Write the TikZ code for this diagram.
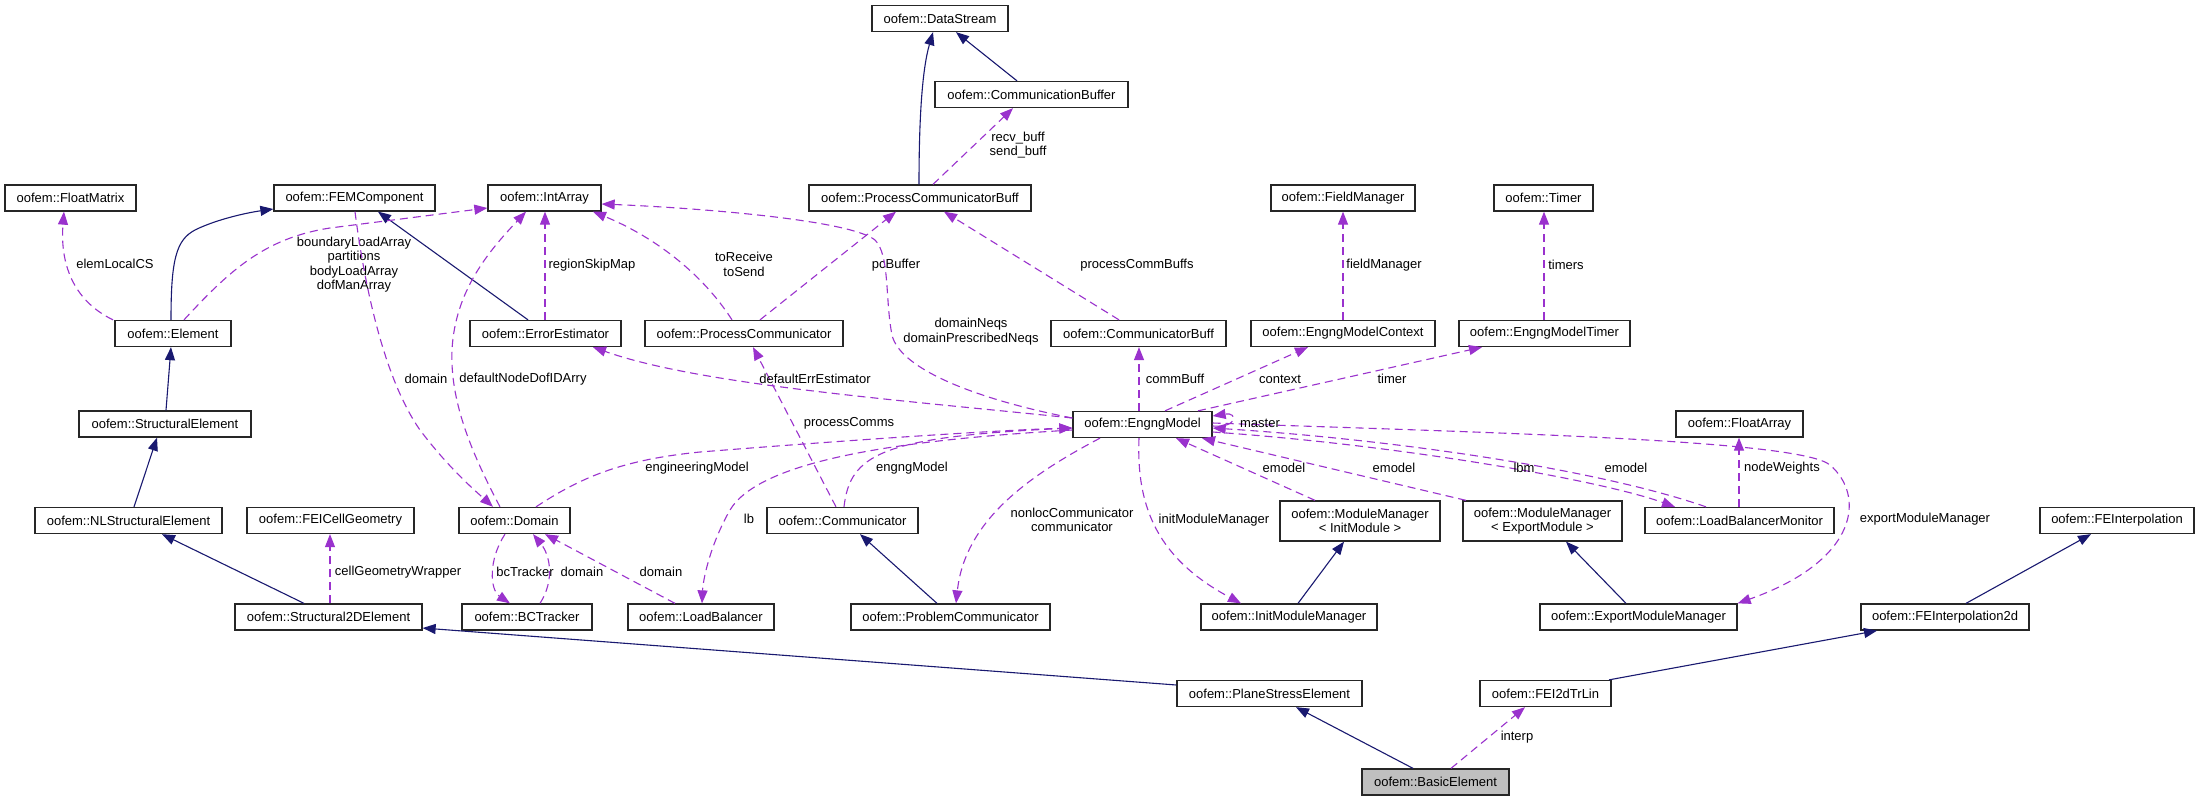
\documentclass[tikz,border=0pt]{standalone}
\usepackage{fontspec}
\setmainfont{Liberation Sans}
\usetikzlibrary{arrows.meta}
\definecolor{inhc}{HTML}{191970}
\definecolor{usec}{HTML}{9A32CD}
\definecolor{boxgray}{HTML}{BFBFBF}
\begin{document}
\begin{tikzpicture}[x=1pt,y=-1pt,
 box/.style={draw=black!85,line width=1.3pt,inner sep=0pt,minimum height=26pt,font=\fontsize{13}{14.5}\selectfont,align=center,fill=white},
 lbl/.style={inner sep=0pt,font=\fontsize{13}{14.5}\selectfont,align=center},
 inh/.style={draw=inhc,line width=1.1pt,-{Triangle[length=13pt,width=10pt]}},
 use/.style={draw=usec,line width=1.1pt,dash pattern=on 8pt off 5pt,-{Triangle[length=13pt,width=10pt]}},
]
\useasboundingbox[fill=white] (0,0) rectangle (2200,801);

\node[box,minimum width=136pt] (ds) at (940,18.5) {oofem::DataStream};
\node[box,minimum width=193pt] (cb) at (1031.5,94.5) {oofem::CommunicationBuffer};
\node[box,minimum width=131pt] (fm) at (70.5,198) {oofem::FloatMatrix};
\node[box,minimum width=161pt] (femc) at (354.5,198) {oofem::FEMComponent};
\node[box,minimum width=113pt] (ia) at (544.5,198) {oofem::IntArray};
\node[box,minimum width=222pt] (pcb) at (920,198) {oofem::ProcessCommunicatorBuff};
\node[box,minimum width=144pt] (fmgr) at (1343,198) {oofem::FieldManager};
\node[box,minimum width=99pt] (tmr) at (1543.5,198) {oofem::Timer};
\node[box,minimum width=116pt] (el) at (173,333.5) {oofem::Element};
\node[box,minimum width=151pt] (ee) at (545.5,333.5) {oofem::ErrorEstimator};
\node[box,minimum width=198pt] (pc) at (744,333.5) {oofem::ProcessCommunicator};
\node[box,minimum width=175pt] (cbf) at (1138.5,333.5) {oofem::CommunicatorBuff};
\node[box,minimum width=184pt] (emc) at (1343,333.5) {oofem::EngngModelContext};
\node[box,minimum width=171pt] (emt) at (1544.5,333.5) {oofem::EngngModelTimer};
\node[box,minimum width=172pt] (se) at (165,424) {oofem::StructuralElement};
\node[box,minimum width=139pt] (em) at (1142.5,424.5) {oofem::EngngModel};
\node[box,minimum width=127pt] (fa) at (1739.5,424) {oofem::FloatArray};
\node[box,minimum width=187pt] (nl) at (128.5,520.5) {oofem::NLStructuralElement};
\node[box,minimum width=167pt] (fcg) at (330.5,520.5) {oofem::FEICellGeometry};
\node[box,minimum width=111pt] (dom) at (514.5,520.5) {oofem::Domain};
\node[box,minimum width=151pt] (com) at (842.5,520.5) {oofem::Communicator};
\node[box,minimum width=160pt,minimum height=40pt] (mmi) at (1360,521) {oofem::ModuleManager\\< InitModule >};
\node[box,minimum width=159pt,minimum height=40pt] (mme) at (1542.5,521) {oofem::ModuleManager\\< ExportModule >};
\node[box,minimum width=189pt] (lbm) at (1739.5,520.5) {oofem::LoadBalancerMonitor};
\node[box,minimum width=154pt] (fei) at (2117,520.5) {oofem::FEInterpolation};
\node[box,minimum width=187pt] (s2d) at (328.5,617) {oofem::Structural2DElement};
\node[box,minimum width=130pt] (bct) at (527,617) {oofem::BCTracker};
\node[box,minimum width=146pt] (lb) at (701,617) {oofem::LoadBalancer};
\node[box,minimum width=199pt] (prc) at (950.5,617) {oofem::ProblemCommunicator};
\node[box,minimum width=176pt] (imm) at (1289,617) {oofem::InitModuleManager};
\node[box,minimum width=197pt] (emm) at (1638.5,617) {oofem::ExportModuleManager};
\node[box,minimum width=168pt] (fei2d) at (1945,617) {oofem::FEInterpolation2d};
\node[box,minimum width=185pt] (pse) at (1269.5,693.5) {oofem::PlaneStressElement};
\node[box,minimum width=131pt] (tri) at (1545.5,693.5) {oofem::FEI2dTrLin};
\node[box,minimum width=147pt,fill=boxgray] (be) at (1435.5,782) {oofem::BasicElement};

% inheritance
\draw[inh] (pcb.north -| 919,0) .. controls (919,120) and (922,70) .. (ds.south -| 933,0);
\draw[inh] (cb.north -| 1017,0) -- (ds.south -| 956,0);
\draw[inh] (el.north -| 171,0) .. controls (171,260) and (176,240) .. (195,230) .. controls (215,220) and (245,213) .. (femc.west |- 0,209);
\draw[inh] (ee.north -| 528,0) -- (femc.south -| 378,0);
\draw[inh] (se.north -| 166,0) -- (el.south -| 171,0);
\draw[inh] (nl.north -| 134,0) -- (se.south -| 157,0);
\draw[inh] (s2d.north -| 304,0) -- (nl.south -| 162,0);
\draw[inh] (pse.west |- 0,685) -- (s2d.east |- 0,628);
\draw[inh] (be.north -| 1413,0) -- (pse.south -| 1296,0);
\draw[inh] (tri.north -| 1609,0) -- (fei2d.south -| 1877,0);
\draw[inh] (fei2d.north -| 1966,0) -- (fei.south -| 2091,0);
\draw[inh] (emm.north -| 1626,0) -- (mme.south -| 1566,0);
\draw[inh] (imm.north -| 1298,0) -- (mmi.south -| 1344,0);
\draw[inh] (prc.north -| 937,0) -- (com.south -| 860,0);

% usage
\draw[use] (pcb.north -| 933,0) -- (cb.south -| 1013,0);
\node[lbl] (lbuff) at (1018,145) {recv\_buff\\send\_buff};
\draw[use] (el.north -| 113,0) .. controls (72,300) and (60,262) .. (fm.south -| 64,0);
\node[lbl] (lelcs) at (115,264) {elemLocalCS};
\draw[use] (el.north -| 184,0) .. controls (230,270) and (265,238) .. (330,228) -- (ia.west |- 0,208);
\node[lbl] (larr) at (354,264.5) {boundaryLoadArray\\partitions\\bodyLoadArray\\dofManArray};
\draw[use] (ee.north -| 545,0) -- (ia.south -| 545,0);
\node[lbl] (lrsm) at (592,265) {regionSkipMap};
\draw[use] (pc.north -| 732,0) .. controls (700,270) and (650,235) .. (ia.south -| 593,0);
\node[lbl] (ltrs) at (744,264.5) {toReceive\\toSend};
\draw[use] (pc.north -| 760,0) -- (pcb.south -| 896,0);
\node[lbl] (lpcb) at (896,265) {pcBuffer};
\draw[use] (cbf.north -| 1119,0) -- (pcb.south -| 944,0);
\node[lbl] (lpcbs) at (1137,265) {processCommBuffs};
\draw[use] (emc.north -| 1343,0) -- (fmgr.south -| 1343,0);
\node[lbl] (lfm) at (1384,265) {fieldManager};
\draw[use] (emt.north -| 1544,0) -- (tmr.south -| 1544,0);
\node[lbl] (ltm) at (1566,265) {timers};
\draw[use] (s2d.north -| 330,0) -- (fcg.south -| 330,0);
\node[lbl] (lcgw) at (398,572) {cellGeometryWrapper};
\draw[use] (be.north -| 1451,0) -- (tri.south -| 1525,0);
\node[lbl] (lint) at (1517,737) {interp};
\draw[use] (dom.north -| 500,0) .. controls (470,450) and (450,400) .. (452,350) .. controls (455,290) and (490,250) .. (ia.south -| 526,0);
\node[lbl] (ldnd) at (523,379) {defaultNodeDofIDArry};
\draw[use] (femc.south -| 355,0) .. controls (365,290) and (385,380) .. (420,430) .. controls (450,470) and (480,495) .. (dom.north -| 493,0);
\node[lbl] (ldoma) at (426,379) {domain};
\draw[use] (dom.north -| 536,0) .. controls (580,478) and (620,460) .. (700,452) .. controls (850,440) and (1000,430) .. (em.west |- 0,428);
\node[lbl] (lengm) at (697,468) {engineeringModel};
\draw[use] (dom.south -| 505,0) .. controls (488,560) and (490,590) .. (bct.north -| 510,0);
\node[lbl] (lbct) at (525,572) {bcTracker};
\draw[use] (bct.north -| 540,0) .. controls (555,580) and (550,555) .. (dom.south -| 533,0);
\node[lbl] (ldomb) at (582,572) {domain};
\draw[use] (lb.north -| 675,0) -- (dom.south -| 545,0);
\node[lbl] (ldomc) at (661,572) {domain};
\draw[use] (em.west |- 0,430) .. controls (900,440) and (760,460) .. (730,510) .. controls (710,545) and (703,580) .. (lb.north -| 702,0);
\node[lbl] (llb) at (749,519) {lb};
\draw[use] (com.north -| 844,0) .. controls (850,455) and (880,437) .. (em.west |- 0,428);
\node[lbl] (lengmb) at (912,468) {engngModel};
\draw[use] (com.north -| 836,0) -- (pc.south -| 753,0);
\node[lbl] (lpcs) at (849,423) {processComms};
\draw[use] (em.west |- 0,418) .. controls (900,400) and (700,385) .. (ee.south -| 593,0);
\node[lbl] (ldee) at (815,379) {defaultErrEstimator};
\draw[use] (em.west |- 0,418) .. controls (980,400) and (900,370) .. (892,335) .. controls (885,300) and (890,255) .. (875,240) .. controls (850,220) and (700,208) .. (ia.east |- 0,204);
\node[lbl] (lneq) at (971,331.5) {domainNeqs\\domainPrescribedNeqs};
\draw[use] (em.north -| 1139,0) -- (cbf.south -| 1139,0);
\node[lbl] (lcbuf) at (1175,379) {commBuff};
\draw[use] (em.north -| 1165,0) -- (emc.south -| 1308,0);
\node[lbl] (lctx) at (1280,379) {context};
\draw[use] (em.north -| 1198,0) -- (emt.south -| 1482,0);
\node[lbl] (ltmr) at (1392,379) {timer};
\draw[use] (em.south -| 1100,0) .. controls (1030,475) and (965,520) .. (prc.north -| 956,0);
\node[lbl] (lnlc) at (1072,520) {nonlocCommunicator\\communicator};
\draw[use] (em.south -| 1139,0) .. controls (1136,510) and (1160,560) .. (imm.north -| 1241,0);
\node[lbl] (limm) at (1214,520) {initModuleManager};
\draw[use] (mmi.north -| 1315,0) -- (em.south -| 1176,0);
\node[lbl] (lema) at (1284,468) {emodel};
\draw[use] (mme.north -| 1466,0) -- (em.south -| 1202,0);
\node[lbl] (lemb) at (1394,468) {emodel};
\draw[use] (lbm.north -| 1706,0) .. controls (1600,470) and (1400,440) .. (em.east |- 0,428);
\node[lbl] (lemc) at (1626,468) {emodel};
\draw[use] (em.east |- 0,432) .. controls (1400,445) and (1600,480) .. (lbm.north -| 1675,0);
\node[lbl] (llbm) at (1524,468) {lbm};
\draw[use] (lbm.north -| 1739,0) -- (fa.south -| 1739,0);
\node[lbl] (lnw) at (1782,468) {nodeWeights};
\draw[use] (em.east |- 0,423) .. controls (1500,433) and (1800,440) .. (1830,465) .. controls (1865,495) and (1860,560) .. (emm.north east);
\node[lbl] (lemm) at (1925,519) {exportModuleManager};
\draw[use] (em.east |- 0,426) .. controls (1238,428) and (1238,412) .. (em.east |- 0,416);
\node[lbl] (lmst) at (1260,423) {master};
\end{tikzpicture}
\end{document}
